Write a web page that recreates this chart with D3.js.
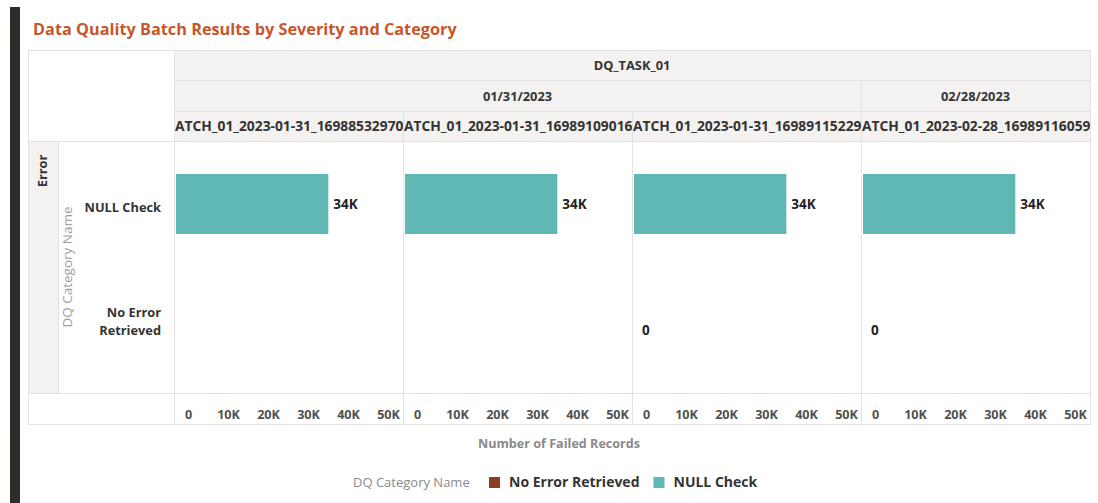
<!DOCTYPE html>
<html>
<head>
<meta charset="utf-8">
<script src="https://cdn.jsdelivr.net/npm/d3@7"></script>
<style>
  body { margin: 0; background: #fff; }
  text { font-family: "Open Sans", "Noto Sans", sans-serif; }
</style>
</head>
<body>
<svg id="chart" width="1098" height="503"></svg>
<script>
// data
const task = "DQ_TASK_01";
const severity = "Error";
const batches = [
  "DQ_BATCH_01_2023-01-31_1698853297054",
  "DQ_BATCH_01_2023-01-31_1698910901654",
  "DQ_BATCH_01_2023-01-31_1698911522953",
  "DQ_BATCH_01_2023-02-28_1698911605953"
];
const batchDates = ["01/31/2023", "01/31/2023", "01/31/2023", "02/28/2023"];
const categories = ["NULL Check", "No Error Retrieved"];
const nullCheckValues = [34000, 34000, 34000, 34000];
const noErrorValues = [null, null, 0, 0];
const xTicks = [0, 10000, 20000, 30000, 40000, 50000];
const legendItems = ["No Error Retrieved", "NULL Check"];

const colors = { "NULL Check": "#5fb8b4", "No Error Retrieved": "#8c401f" };
const lineC = "#e3e2e0";
const headBg = "#f3f2f0";

const width = 1098, height = 503;
const boxL = 28, boxR = 1090, boxT = 50;
const rowY = [50, 80, 111, 141];   // header rows
const bodyT = 141, bodyB = 393, axisB = 424;
const panelL = 174;

const svg = d3.select("#chart");

// dark strip on the left
svg.append("rect").attr("x", 10).attr("y", 7).attr("width", 10).attr("height", height - 7).attr("fill", "#302c29");

// title
svg.append("text").attr("x", 33).attr("y", 35)
  .attr("font-size", 16.3).attr("font-weight", 700).attr("fill", "#c8562b")
  .text("Data Quality Batch Results by Severity and Category");

const xPanel = d3.scaleBand().domain(batches).range([panelL, boxR]);
const pw = xPanel.bandwidth();
const x = d3.scaleLinear().domain([0, 50000]).range([2, pw - 3]);
const xLab = d3.scaleLinear().domain([0, 50000]).range([14, pw - 15]);
const y = d3.scaleBand().domain(categories).range([bodyT, bodyB]).paddingInner(0.524).paddingOuter(0.262);

// backgrounds
svg.append("rect").attr("x", panelL).attr("y", boxT).attr("width", boxR - panelL).attr("height", bodyT - boxT).attr("fill", headBg);
svg.append("rect").attr("x", boxL).attr("y", bodyT).attr("width", 30).attr("height", bodyB - bodyT).attr("fill", headBg);

// grid lines
const g = svg.append("g").attr("stroke", lineC).attr("stroke-width", 1).attr("shape-rendering", "crispEdges");
g.append("rect").attr("x", boxL).attr("y", boxT).attr("width", boxR - boxL).attr("height", axisB - boxT).attr("fill", "none");
[rowY[1], rowY[2]].forEach(yy => g.append("line").attr("x1", panelL).attr("x2", boxR).attr("y1", yy).attr("y2", yy));
[bodyT, bodyB].forEach(yy => g.append("line").attr("x1", boxL).attr("x2", boxR).attr("y1", yy).attr("y2", yy));
g.append("line").attr("x1", 58).attr("x2", 58).attr("y1", bodyT).attr("y2", bodyB);
g.append("line").attr("x1", panelL).attr("x2", panelL).attr("y1", boxT).attr("y2", axisB);
batches.forEach((b, i) => {
  if (i === 0) return;
  const xx = xPanel(b);
  const top = batchDates[i] !== batchDates[i - 1] ? rowY[1] : rowY[2];
  g.append("line").attr("x1", xx).attr("x2", xx).attr("y1", top).attr("y2", axisB);
});

// header text
const head = svg.append("g").attr("font-size", 12.8).attr("font-weight", 700).attr("fill", "#333").attr("text-anchor", "middle");
head.append("text").attr("x", (panelL + boxR) / 2).attr("y", 70).text(task);

const dateSpans = [];
batchDates.forEach((d, i) => {
  const last = dateSpans[dateSpans.length - 1];
  if (last && last.date === d) last.x1 = xPanel(batches[i]) + pw;
  else dateSpans.push({ date: d, x0: xPanel(batches[i]), x1: xPanel(batches[i]) + pw });
});
dateSpans.forEach(s => head.append("text").attr("x", (s.x0 + s.x1) / 2).attr("y", 101).text(s.date));

// batch names are wider than their cells: clipped on both sides as in the report
const defs = svg.append("defs");
batches.forEach((b, i) => {
  defs.append("clipPath").attr("id", "clip" + i)
    .append("rect").attr("x", xPanel(b) + 1).attr("y", rowY[2]).attr("width", pw - 1).attr("height", bodyT - rowY[2]);
  const t = head.append("text").attr("clip-path", `url(#clip${i})`)
    .attr("text-anchor", "start").attr("y", 131).attr("font-size", 13.8).text(b.slice(0, 4));
  const pre = t.node().getComputedTextLength();
  t.text(b).attr("x", xPanel(b) + 1 - pre);
});

// row headers
svg.append("text").attr("transform", "translate(47,171) rotate(-90)")
  .attr("text-anchor", "middle").attr("font-size", 12.8).attr("font-weight", 700).attr("fill", "#333").text(severity);
svg.append("text").attr("transform", `translate(72,${(bodyT + bodyB) / 2}) rotate(-90)`)
  .attr("text-anchor", "middle").attr("font-size", 13.5).attr("fill", "#9e9e9e").text("DQ Category Name");

const rowLab = svg.append("g").attr("font-size", 12.8).attr("font-weight", 700).attr("fill", "#333").attr("text-anchor", "end");
categories.forEach(c => {
  const cy = y(c) + y.bandwidth() / 2;
  const words = c === "No Error Retrieved" ? ["No Error", "Retrieved"] : [c];
  const t = rowLab.append("text").attr("x", 161).attr("y", words.length > 1 ? cy - 13 : cy + 8);
  words.forEach((w, k) => t.append("tspan").attr("x", 161).attr("dy", k ? 18 : 0).text(w));
});

// panels: bars, labels, axes
const rows = [
  { cat: "NULL Check", values: nullCheckValues },
  { cat: "No Error Retrieved", values: noErrorValues }
];
const fmtK = d => d === 0 ? "0" : d3.format(".2~s")(d).replace("k", "K");
batches.forEach((b, i) => {
  const p = svg.append("g").attr("transform", `translate(${xPanel(b)},0)`);
  rows.forEach(r => {
    const v = r.values[i];
    if (v === null) return;
    p.append("rect").attr("x", x(0)).attr("y", y(r.cat)).attr("width", x(v) - x(0)).attr("height", y.bandwidth())
      .attr("fill", colors[r.cat]);
    p.append("text").attr("x", x(v) + (v ? 5 : 8)).attr("y", y(r.cat) + y.bandwidth() / 2 + 5)
      .attr("font-size", 13.5).attr("font-weight", 700).attr("fill", "#222")
      .text(fmtK(v));
  });
  const ax = p.append("g").attr("transform", `translate(0,${bodyB})`)
    .call(d3.axisBottom(xLab).tickValues(xTicks).tickSize(0).tickPadding(17).tickFormat(fmtK));
  ax.select(".domain").remove();
  ax.selectAll("text").attr("font-family", "\"Open Sans\", sans-serif").attr("font-size", 12.6)
    .attr("font-weight", 700).attr("fill", "#505050");
});

// axis title
svg.append("text").attr("x", (boxL + boxR) / 2).attr("y", 448).attr("text-anchor", "middle")
  .attr("font-size", 12.6).attr("font-weight", 700).attr("fill", "#8a8a8a").text("Number of Failed Records");

// legend
const leg = svg.append("g").attr("transform", "translate(353,487)");
leg.append("text").attr("x", 0).attr("y", 0).attr("font-size", 13).attr("fill", "#8a8a8a").text("DQ Category Name");
let lx = 136;
legendItems.forEach(name => {
  leg.append("rect").attr("x", lx).attr("y", -10).attr("width", 11).attr("height", 11).attr("fill", colors[name]);
  const t = leg.append("text").attr("x", lx + 20).attr("y", 0).attr("font-size", 14).attr("font-weight", 700).attr("fill", "#333").text(name);
  lx += 20 + t.node().getComputedTextLength() + 14;
});
</script>
</body>
</html>
